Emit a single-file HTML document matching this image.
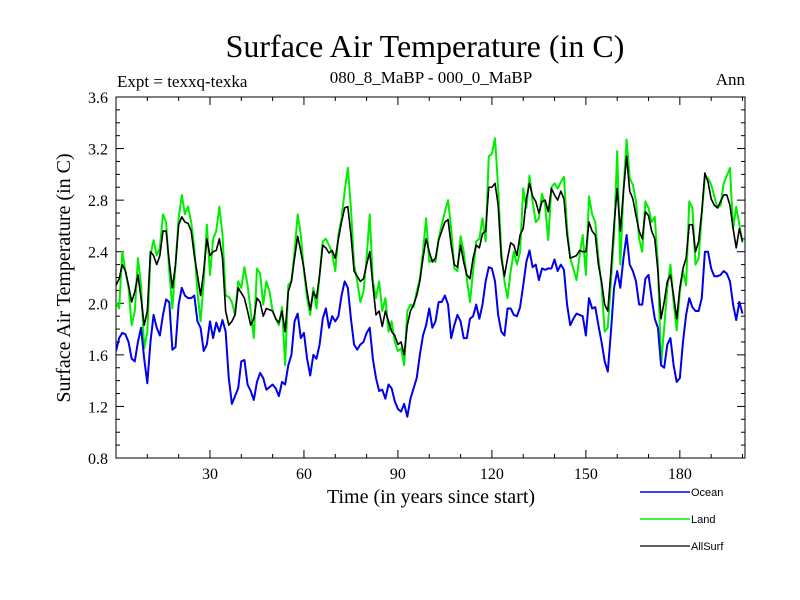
<!DOCTYPE html>
<html><head><meta charset="utf-8"><style>
body{margin:0;background:#fff;width:800px;height:600px;overflow:hidden}
svg{display:block}
.serif{font-family:"Liberation Serif",serif}
.sans{font-family:"Liberation Sans",sans-serif}
</style></head><body>
<svg id="chart" width="800" height="600">
<text class="serif" x="425" y="57" font-size="32" text-anchor="middle">Surface Air Temperature (in C)</text>
<text class="serif" x="117" y="87" font-size="17">Expt = texxq-texka</text>
<text class="serif" x="431" y="83" font-size="17" text-anchor="middle">080_8_MaBP - 000_0_MaBP</text>
<text class="serif" x="745" y="85" font-size="17" text-anchor="end">Ann</text>
<text class="serif" x="431" y="503" font-size="20" text-anchor="middle">Time (in years since start)</text>
<text class="serif" transform="translate(70,278) rotate(-90)" font-size="20" text-anchor="middle">Surface Air Temperature (in C)</text>
<g id="plot"></g>
<g id="legend"></g>
</svg>
<script>
const years = Array.from({length:201},(_,i)=>i);
const ocean = [1.63,1.73,1.77,1.76,1.70,1.57,1.55,1.70,1.81,1.57,1.38,1.70,1.91,1.81,1.75,1.91,2.03,2.01,1.64,1.66,1.99,2.12,2.06,2.04,2.04,2.06,1.86,1.81,1.63,1.68,1.86,1.73,1.85,1.78,1.87,1.78,1.42,1.22,1.28,1.34,1.55,1.56,1.37,1.32,1.25,1.39,1.46,1.42,1.33,1.35,
1.37,1.34,1.28,1.39,1.37,1.52,1.60,1.86,1.92,1.73,1.77,1.57,1.44,1.60,1.57,1.68,1.88,1.96,1.81,1.90,1.86,1.90,2.06,2.17,2.12,1.88,1.68,1.64,1.68,1.70,1.77,1.81,1.57,1.42,1.32,1.33,1.26,1.37,1.34,1.24,1.18,1.16,1.22,1.12,1.26,1.34,1.42,1.60,1.75,
1.83,1.96,1.81,1.86,2.01,2.01,2.06,1.99,1.73,1.83,1.91,1.86,1.73,1.73,1.88,1.90,1.99,1.88,1.99,2.17,2.28,2.27,2.17,1.91,1.78,1.75,1.96,1.96,1.91,1.90,1.97,2.14,2.32,2.41,2.28,2.30,2.18,2.27,2.26,2.27,2.27,2.34,2.25,2.30,2.26,1.99,1.83,1.88,1.92,1.91,
1.90,1.75,2.04,1.96,1.97,1.83,1.70,1.55,1.47,1.78,2.12,2.25,2.12,2.35,2.53,2.30,2.25,2.17,1.99,1.99,2.19,2.22,2.04,1.88,1.81,1.52,1.50,1.68,1.73,1.52,1.39,1.42,1.70,1.91,2.04,1.97,1.94,1.94,2.04,2.40,2.40,2.27,2.21,2.21,2.22,2.25,2.23,2.17,1.99,1.87,2.01,1.92];
const land = [2.01,1.96,2.40,2.25,2.12,1.83,1.94,2.35,2.14,1.65,1.78,2.37,2.49,2.37,2.43,2.69,2.63,2.25,1.96,2.30,2.66,2.84,2.69,2.75,2.63,2.43,2.09,1.86,2.17,2.61,2.22,2.50,2.56,2.75,2.53,2.06,2.05,2.01,1.91,2.17,2.12,2.28,2.14,1.94,1.73,2.27,2.23,1.99,2.17,2.09,
1.94,1.88,1.83,1.97,1.52,2.14,2.17,2.40,2.69,2.53,2.25,2.04,1.91,2.12,1.96,2.22,2.48,2.50,2.45,2.39,2.25,2.53,2.66,2.87,3.05,2.74,2.30,2.17,2.01,2.09,2.35,2.69,2.17,2.04,2.17,1.94,2.04,1.78,1.86,1.70,1.63,1.65,1.52,1.94,1.99,1.97,2.09,2.19,2.40,
2.66,2.32,2.34,2.32,2.50,2.61,2.71,2.80,2.58,2.27,2.25,2.52,2.40,2.19,2.01,2.25,2.48,2.50,2.66,2.48,3.14,3.16,3.28,2.89,2.40,2.17,2.04,2.25,2.40,2.30,2.40,2.89,2.74,2.99,2.79,2.63,2.66,2.85,2.76,2.49,2.90,2.93,2.89,2.94,2.98,2.58,2.35,2.27,2.18,2.37,
2.53,2.22,2.83,2.69,2.63,2.35,2.14,1.78,1.81,2.17,2.53,3.18,2.30,2.87,3.27,2.97,2.92,2.79,2.50,2.40,2.79,2.74,2.63,2.67,2.30,1.52,1.81,2.12,2.30,2.01,1.79,2.09,2.25,2.14,2.79,2.74,2.30,2.35,2.69,2.99,2.97,2.92,2.83,2.74,2.76,2.93,2.99,3.05,2.58,2.75,2.61,2.47];
const allSurf = [2.14,2.19,2.30,2.25,2.14,2.01,2.09,2.22,2.04,1.83,1.94,2.40,2.37,2.30,2.37,2.56,2.56,2.32,2.12,2.30,2.61,2.67,2.63,2.62,2.56,2.37,2.22,2.06,2.25,2.50,2.37,2.40,2.41,2.50,2.35,1.94,1.83,1.86,1.91,2.12,2.08,2.04,1.94,1.83,1.88,2.04,2.01,1.90,1.96,1.95,
1.94,1.88,1.85,1.94,1.78,2.09,2.17,2.35,2.52,2.40,2.27,2.09,1.95,2.09,2.04,2.22,2.45,2.43,2.39,2.41,2.35,2.50,2.63,2.74,2.75,2.53,2.25,2.21,2.17,2.19,2.30,2.40,2.14,1.91,1.94,1.82,1.94,1.86,1.78,1.75,1.68,1.70,1.60,1.83,1.94,1.99,2.06,2.17,2.35,
2.50,2.40,2.32,2.35,2.49,2.56,2.63,2.65,2.45,2.30,2.28,2.45,2.32,2.22,2.19,2.35,2.45,2.43,2.54,2.56,2.90,2.90,2.93,2.76,2.35,2.21,2.35,2.47,2.45,2.37,2.53,2.58,2.81,2.93,2.83,2.79,2.70,2.79,2.80,2.71,2.89,2.84,2.80,2.87,2.81,2.53,2.35,2.36,2.37,2.41,
2.40,2.40,2.63,2.56,2.53,2.30,2.17,1.99,1.94,2.25,2.61,2.89,2.56,2.87,3.14,2.87,2.81,2.68,2.56,2.50,2.71,2.68,2.56,2.50,2.25,1.88,2.01,2.17,2.22,2.06,1.88,2.12,2.27,2.35,2.61,2.61,2.40,2.48,2.71,3.01,2.94,2.81,2.76,2.74,2.79,2.84,2.84,2.76,2.58,2.43,2.58,2.48];
const xTicks = [30,60,90,120,150,180];
const yTicks = [0.8,1.2,1.6,2.0,2.4,2.8,3.2,3.6];
const seriesNames = ['Ocean','Land','AllSurf'];

const L=116,R=745,T=97,B=458, X0=0,X1=200.8, Y0=0.8,Y1=3.6;
const NS='http://www.w3.org/2000/svg';
const xs=v=>L+(v-X0)/(X1-X0)*(R-L);
const ys=v=>B-(v-Y0)/(Y1-Y0)*(B-T);
const plot=document.getElementById('plot');
function mk(tag,attrs,parent){const e=document.createElementNS(NS,tag);for(const k in attrs)e.setAttribute(k,attrs[k]);(parent||plot).appendChild(e);return e;}

const frame=mk('rect',{x:L,y:T,width:R-L,height:B-T,fill:'none',stroke:'#000','stroke-width':1});



for(let v=10;v<X1;v+=10){
  const big=v%30===0, len=big?8:4, x=xs(v);
  const t1=mk('line',{x1:x,x2:x,y1:B,y2:B-len,stroke:'#000'});
  
  
  const t2=mk('line',{x1:x,x2:x,y1:T,y2:T+len,stroke:'#000'});
  
  
}
xTicks.forEach(v=>{
  const t=mk('text',{x:xs(v),y:B+21,'font-size':16,'text-anchor':'middle','font-family':'Liberation Serif, serif'});
  t.textContent=v;
  
  
});
for(let i=0;i<=28;i++){
  const v=Y0+i*0.1, big=i%4===0, len=big?8:4, y=ys(v);
  const t1=mk('line',{x1:L,x2:L+len,y1:y,y2:y,stroke:'#000'});
  
  
  const t2=mk('line',{x1:R,x2:R-len,y1:y,y2:y,stroke:'#000'});
  
  
}
yTicks.forEach(v=>{
  const t=mk('text',{x:L-8,y:ys(v)+6,'font-size':16,'text-anchor':'end','font-family':'Liberation Serif, serif'});
  t.textContent=v.toFixed(1);
  
  
});

const cp=mk('clipPath',{id:'clip'});
mk('rect',{x:L,y:T,width:R-L,height:B-T},cp);
function line(data,color,w,name){
  const p=mk('polyline',{points:data.map((v,i)=>xs(years[i])+','+ys(v)).join(' '),fill:'none',stroke:color,'stroke-width':w,'stroke-linejoin':'round','clip-path':'url(#clip)'});
  
  
}
line(land,'#00ee00',2,'land-line');
line(allSurf,'#000000',1.6,'allsurf-line');
line(ocean,'#0000ee',2,'ocean-line');

const lg=document.getElementById('legend');
const colors=['#0000ee','#00ee00','#000000'];
seriesNames.forEach((n,i)=>{
  const y=492+i*27;
  const l=mk('line',{x1:640,x2:690,y1:y,y2:y,stroke:colors[i],'stroke-width':i===2?1.3:1.6},lg);
  
  
  const t=mk('text',{x:691,y:y+4,'font-size':11,'font-family':'Liberation Sans, sans-serif'},lg);
  t.textContent=n;
  
  
});
</script>
</body></html>
